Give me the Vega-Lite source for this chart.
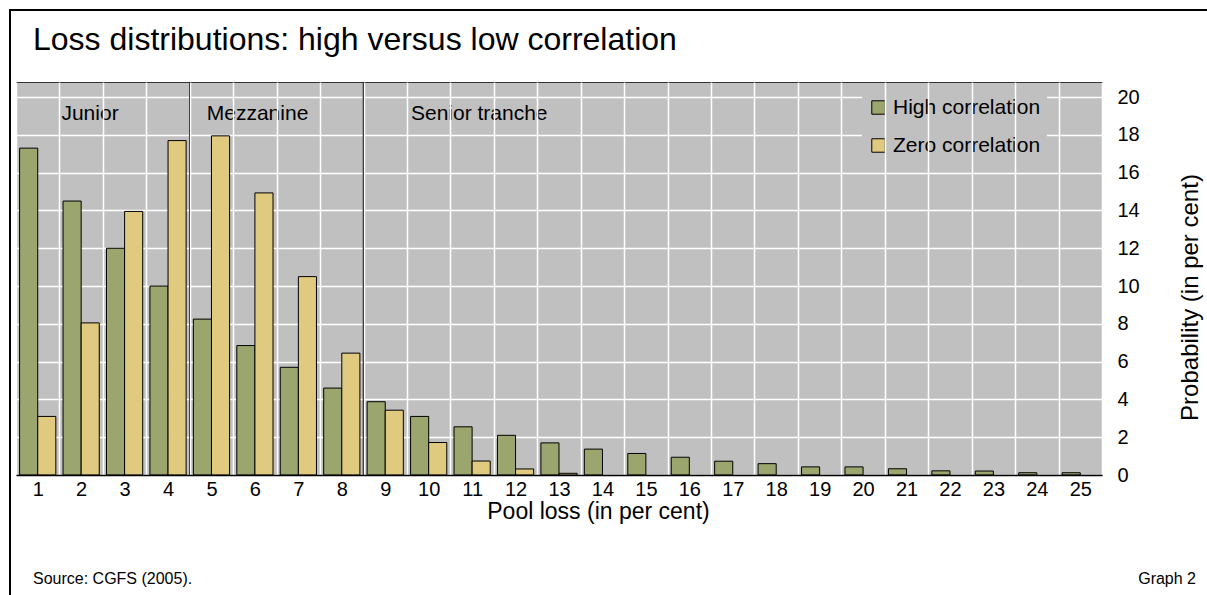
{
  "$schema": "https://vega.github.io/schema/vega-lite/v6.json",
  "autosize": "none",
  "width": 1086,
  "height": 393,
  "padding": {"left": 16, "top": 82, "right": 105, "bottom": 120},
  "background": "white",
  "config": {
    "font": "Liberation Sans",
    "view": {"fill": "#C0C0C0", "stroke": "#333333", "strokeWidth": 1}
  },
  "title": {
    "text": "Loss distributions: high versus low correlation",
    "anchor": "start",
    "dx": 24,
    "dy": 32,
    "offset": -41,
    "baseline": "alphabetic",
    "fontSize": 32,
    "fontWeight": "normal",
    "color": "black"
  },
  "data": {
    "values": [
      {"loss": 1, "series": "High correlation", "p": 17.3},
      {"loss": 2, "series": "High correlation", "p": 14.5},
      {"loss": 3, "series": "High correlation", "p": 12.0},
      {"loss": 4, "series": "High correlation", "p": 10.0},
      {"loss": 5, "series": "High correlation", "p": 8.25},
      {"loss": 6, "series": "High correlation", "p": 6.85},
      {"loss": 7, "series": "High correlation", "p": 5.7},
      {"loss": 8, "series": "High correlation", "p": 4.6},
      {"loss": 9, "series": "High correlation", "p": 3.88},
      {"loss": 10, "series": "High correlation", "p": 3.1},
      {"loss": 11, "series": "High correlation", "p": 2.55},
      {"loss": 12, "series": "High correlation", "p": 2.1},
      {"loss": 13, "series": "High correlation", "p": 1.7},
      {"loss": 14, "series": "High correlation", "p": 1.37},
      {"loss": 15, "series": "High correlation", "p": 1.14},
      {"loss": 16, "series": "High correlation", "p": 0.94},
      {"loss": 17, "series": "High correlation", "p": 0.73},
      {"loss": 18, "series": "High correlation", "p": 0.6},
      {"loss": 19, "series": "High correlation", "p": 0.43},
      {"loss": 20, "series": "High correlation", "p": 0.43},
      {"loss": 21, "series": "High correlation", "p": 0.33},
      {"loss": 22, "series": "High correlation", "p": 0.22},
      {"loss": 23, "series": "High correlation", "p": 0.21},
      {"loss": 24, "series": "High correlation", "p": 0.12},
      {"loss": 25, "series": "High correlation", "p": 0.12},
      {"loss": 1, "series": "Zero correlation", "p": 3.1},
      {"loss": 2, "series": "Zero correlation", "p": 8.05},
      {"loss": 3, "series": "Zero correlation", "p": 13.95},
      {"loss": 4, "series": "Zero correlation", "p": 17.7},
      {"loss": 5, "series": "Zero correlation", "p": 17.95},
      {"loss": 6, "series": "Zero correlation", "p": 14.93},
      {"loss": 7, "series": "Zero correlation", "p": 10.5},
      {"loss": 8, "series": "Zero correlation", "p": 6.45},
      {"loss": 9, "series": "Zero correlation", "p": 3.43},
      {"loss": 10, "series": "Zero correlation", "p": 1.72},
      {"loss": 11, "series": "Zero correlation", "p": 0.74},
      {"loss": 12, "series": "Zero correlation", "p": 0.32},
      {"loss": 13, "series": "Zero correlation", "p": 0.09}
    ]
  },
  "encoding": {
    "x": {
      "field": "loss",
      "type": "ordinal",
      "scale": {"paddingInner": 0, "paddingOuter": 0},
      "axis": {
        "orient": "bottom",
        "title": "Pool loss (in per cent)",
        "titleFontSize": 23,
        "titleFontWeight": "normal",
        "titleColor": "black",
        "titleX": 582,
        "titleY": 43,
        "titleAlign": "center",
        "titleBaseline": "alphabetic",
        "labelAngle": 0,
        "labelFontSize": 20,
        "labelColor": "black",
        "labelPadding": 4,
        "ticks": false,
        "tickBand": "extent",
        "grid": true,
        "gridColor": "white",
        "gridWidth": 1.5,
        "gridOpacity": 1,
        "domainColor": "black",
        "domainWidth": 1.5
      }
    },
    "y": {
      "type": "quantitative",
      "scale": {"domain": [0, 20.8], "nice": false, "zero": true},
      "axis": {
        "orient": "right",
        "values": [0, 2, 4, 6, 8, 10, 12, 14, 16, 18, 20],
        "title": "Probability (in per cent)",
        "titleFontSize": 24,
        "titleFontWeight": "normal",
        "titleColor": "black",
        "titleAngle": 270,
        "titleX": 88,
        "titleY": 215,
        "titleAlign": "center",
        "titleBaseline": "middle",
        "labelFontSize": 20,
        "labelColor": "black",
        "labelPadding": 15,
        "ticks": false,
        "domain": false,
        "grid": true,
        "gridColor": "white",
        "gridWidth": 1.5,
        "gridOpacity": 1
      }
    }
  },
  "layer": [
    {
      "data": {"values": [{}]},
      "mark": {"type": "rect", "fill": "#C0C0C0", "x2Offset": 4},
      "encoding": {
        "x": {"datum": 1, "bandPosition": 0},
        "x2": {"datum": 4, "bandPosition": 0},
        "y": {"datum": 19.9},
        "y2": {"datum": 18.1}
      }
    },
    {
      "data": {"values": [{}]},
      "mark": {"type": "rect", "fill": "#C0C0C0", "x2Offset": 5},
      "encoding": {
        "x": {"datum": 5, "bandPosition": 0},
        "x2": {"datum": 8, "bandPosition": 0},
        "y": {"datum": 19.9},
        "y2": {"datum": 18.1}
      }
    },
    {
      "data": {"values": [{}]},
      "mark": {"type": "rect", "fill": "#C0C0C0", "x2Offset": 20},
      "encoding": {
        "x": {"datum": 9, "bandPosition": 0},
        "x2": {"datum": 14, "bandPosition": 0},
        "y": {"datum": 19.9},
        "y2": {"datum": 18.1}
      }
    },
    {
      "mark": {"type": "bar", "stroke": "black", "strokeWidth": 1},
      "encoding": {
        "y": {"field": "p"},
        "xOffset": {
          "field": "series",
          "type": "nominal",
          "scale": {"paddingInner": 0, "paddingOuter": 0.2}
        },
        "color": {
          "field": "series",
          "type": "nominal",
          "scale": {"domain": ["High correlation", "Zero correlation"], "range": ["#9BA66E", "#E0CA80"]},
          "legend": {
            "title": null,
            "orient": "none",
            "legendX": 846,
            "legendY": 9,
            "fillColor": "#C0C0C0",
            "padding": 6,
            "labelFontSize": 21,
            "labelColor": "black",
            "labelOffset": 4,
            "symbolType": "square",
            "symbolSize": 180,
            "symbolStrokeColor": "black",
            "symbolStrokeWidth": 1,
            "symbolOpacity": 1,
            "rowPadding": 16
          }
        }
      }
    },
    {
      "data": {"values": [{}]},
      "mark": {"type": "rule", "color": "black", "strokeWidth": 1.5},
      "encoding": {"x": {"datum": 5, "bandPosition": 0}}
    },
    {
      "data": {"values": [{}]},
      "mark": {"type": "rule", "color": "black", "strokeWidth": 1.5},
      "encoding": {"x": {"datum": 9, "bandPosition": 0}}
    },
    {
      "data": {"values": [{}]},
      "mark": {"type": "text", "align": "left", "baseline": "middle", "fontSize": 21, "dx": 2, "color": "black"},
      "encoding": {"x": {"datum": 2, "bandPosition": 0}, "y": {"datum": 19.1}, "text": {"value": "Junior"}}
    },
    {
      "data": {"values": [{}]},
      "mark": {"type": "text", "align": "left", "baseline": "middle", "fontSize": 21, "dx": 17, "color": "black"},
      "encoding": {"x": {"datum": 5, "bandPosition": 0}, "y": {"datum": 19.1}, "text": {"value": "Mezzanine"}}
    },
    {
      "data": {"values": [{}]},
      "mark": {"type": "text", "align": "left", "baseline": "middle", "fontSize": 21, "dx": 4, "color": "black"},
      "encoding": {"x": {"datum": 10, "bandPosition": 0}, "y": {"datum": 19.1}, "text": {"value": "Senior tranche"}}
    },
    {
      "data": {"values": [{}]},
      "mark": {"type": "text", "align": "left", "baseline": "middle", "fontSize": 16, "dx": 17, "color": "black"},
      "encoding": {"x": {"datum": 1, "bandPosition": 0}, "y": {"datum": -5.5}, "text": {"value": "Source: CGFS (2005)."}}
    },
    {
      "data": {"values": [{}]},
      "mark": {"type": "text", "align": "right", "baseline": "middle", "fontSize": 16, "dx": 94, "color": "black"},
      "encoding": {"x": {"datum": 25, "bandPosition": 1}, "y": {"datum": -5.5}, "text": {"value": "Graph 2"}}
    },
    {
      "data": {"values": [{}]},
      "mark": {"type": "rect", "filled": false, "stroke": "black", "strokeWidth": 2, "xOffset": -6, "x2Offset": 200},
      "encoding": {
        "x": {"datum": 1, "bandPosition": 0},
        "x2": {"datum": 25, "bandPosition": 0},
        "y": {"datum": 24.61},
        "y2": {"datum": -8}
      }
    }
  ]
}
